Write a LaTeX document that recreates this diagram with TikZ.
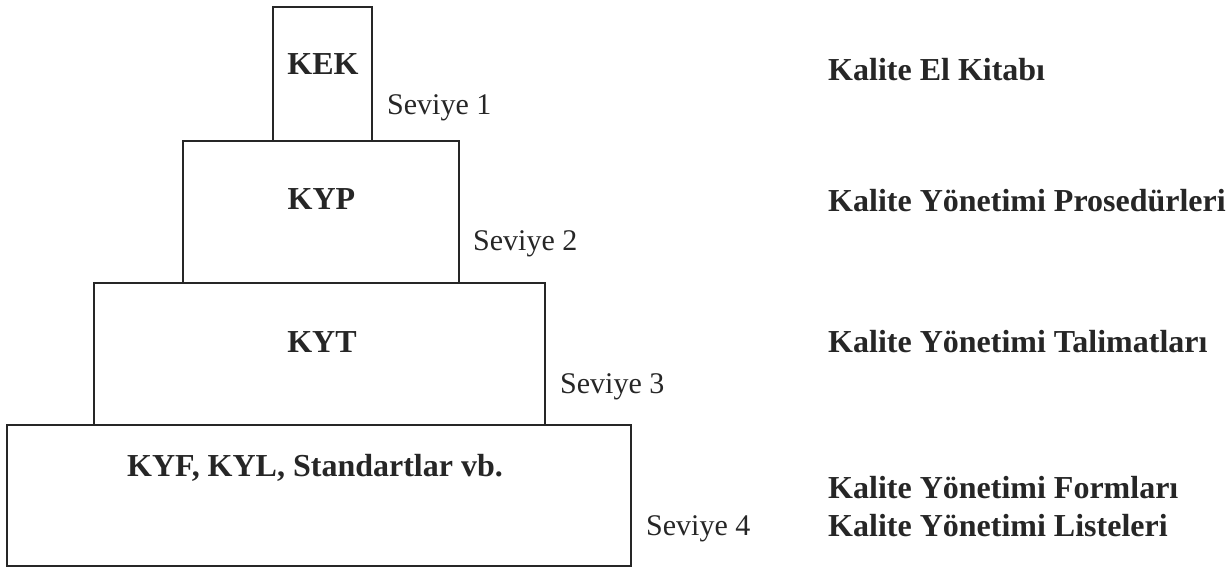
\documentclass[tikz,border=0pt]{standalone}
\usepackage{fontspec}
\setmainfont{Liberation Serif}
\begin{document}
\begin{tikzpicture}[x=1pt,y=-1pt,
  box/.style={draw=black!85, line width=1.6pt, inner sep=0pt, outer sep=0pt, fill=none},
  boxlbl/.style={anchor=base, inner sep=0pt, text=black!85, font=\fontsize{32}{38}\selectfont\bfseries},
  lvl/.style={anchor=base west, inner sep=0pt, text=black!85, font=\fontsize{30}{36}\selectfont},
  doc/.style={anchor=base west, inner sep=0pt, text=black!85, font=\fontsize{32}{38}\selectfont\bfseries}]
\useasboundingbox (0,0) rectangle (1231,569);
% boxes
\node[box, minimum width=99pt, minimum height=134pt] (kek) at (322.5,74) {};
\node[box, minimum width=276pt, minimum height=142pt] (kyp) at (321,212) {};
\node[box, minimum width=451pt, minimum height=142pt] (kyt) at (319.5,354) {};
\node[box, minimum width=624pt, minimum height=141pt] (kyf) at (319,495.5) {};
% box labels
\node[boxlbl] (tkek) at (323,75) {KEK};
\node[boxlbl] (tkyp) at (321.5,210) {KYP};
\node[boxlbl] (tkyt) at (322,352) {KYT};
\node[boxlbl] (tkyf) at (315,476) {KYF, KYL, Standartlar vb.};
% levels
\node[lvl] (s1) at (387,115) {Seviye 1};
\node[lvl] (s2) at (473,251) {Seviye 2};
\node[lvl] (s3) at (560,393) {Seviye 3};
\node[lvl] (s4) at (646,535) {Seviye 4};
% documents
\node[doc] (d1) at (828,81) {Kalite El Kitabı};
\node[doc] (d2) at (828,212) {Kalite Yönetimi Prosedürleri};
\node[doc] (d3) at (828,352) {Kalite Yönetimi Talimatları};
\node[doc] (d4) at (828,498) {Kalite Yönetimi Formları};
\node[doc] (d5) at (828,536) {Kalite Yönetimi Listeleri};
\end{tikzpicture}
\end{document}
